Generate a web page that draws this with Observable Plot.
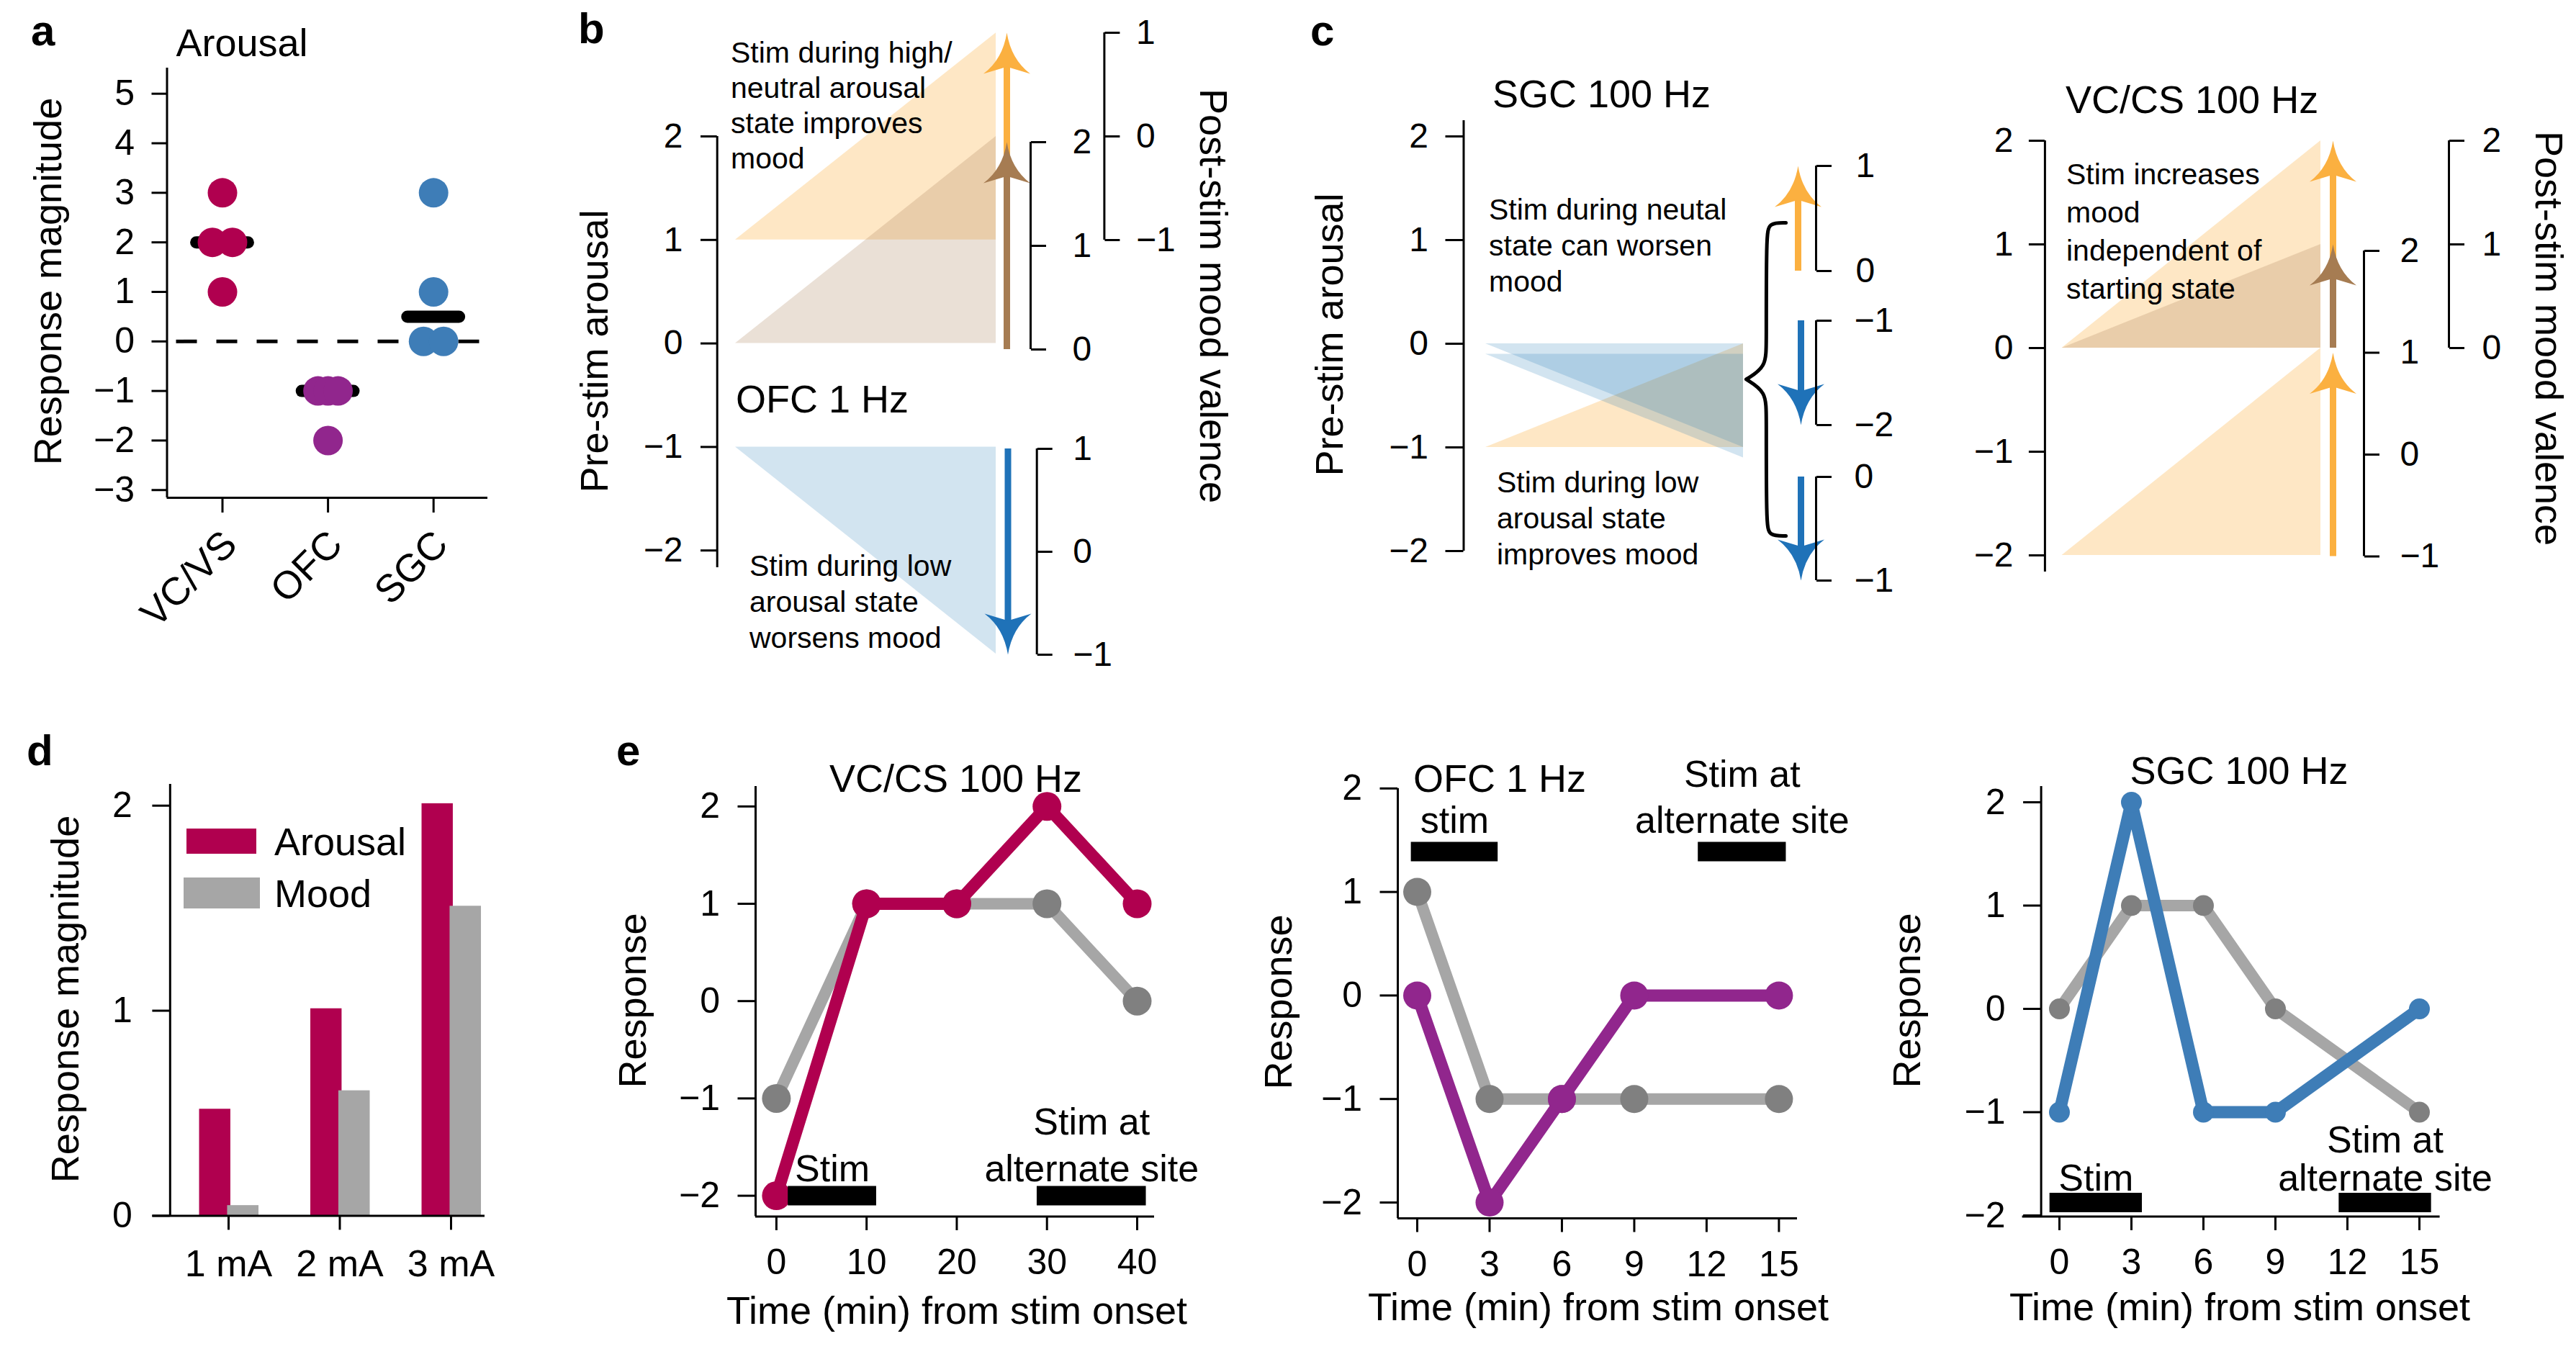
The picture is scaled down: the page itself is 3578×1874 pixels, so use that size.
<!DOCTYPE html>
<html><head><meta charset="utf-8">
<script src="https://cdn.jsdelivr.net/npm/d3@7"></script>
<script src="https://cdn.jsdelivr.net/npm/@observablehq/plot@0.6"></script>
<style>
html,body{margin:0;padding:0;background:#fff;}
#root{position:relative;width:3578px;height:1874px;overflow:hidden;background:#fff;font-family:"Liberation Sans",Arial,Helvetica,sans-serif;color:#000;}
.t{position:absolute;white-space:pre;line-height:1;color:#000;}
</style></head><body><div id="root"></div>
<script>
// ================= DATA =================
// a: arousal response per region (individual sessions)
const regions = ["VC/VS", "OFC", "SGC"];
const arousalVCVS = [3, 2, 2, 1];
const arousalOFC = [-1, -1, -1, -2];
const arousalSGC = [3, 1, 0, 0];
const yTicksA = [-3, -2, -1, 0, 1, 2, 3, 4, 5];

// b: OFC 1 Hz schematic
const statesB = ["high/neutral", "neutral", "low"];
const preArousalB = [1, 0, -1];
const apexArousalB = [3, 2, -3];
const moodFromB = [-1, 0, 1];
const moodToB = [1, 2, -1];
const moodTicksB = [[-1, 0, 1], [0, 1, 2], [-1, 0, 1]];
const arousalTicks = [-2, -1, 0, 1, 2];

// c (left): SGC 100 Hz schematic
const statesCL = ["low", "neutral", "neutral"];
const preArousalCL = [-1, 0, -0.1];
const apexArousalCL = [0, -1, -1.1];
const moodFromCL = [0, -1, 0];
const moodToCL = [1, -2, -1];
const moodTicksCL = [[0, 1], [-1, -2], [0, -1]];

// c (right): VC/CS 100 Hz schematic
const statesCR = ["neutral", "neutral", "low"];
const preArousalCR = [0, 0, -2];
const apexArousalCR = [2, 1, 0];
const moodFromCR = [0, 0, -1];
const moodToCR = [2, 1, 1];
const moodTicksCRA = [-1, 0, 1, 2];
const moodTicksCRB = [0, 1, 2];

// d: dose response
const currents = ["1 mA", "2 mA", "3 mA"];
const seriesD = ["Arousal", "Mood"];
const arousalByCurrent = [0.52, 1.01, 2.01];
const moodByCurrent = [0.05, 0.61, 1.51];
const yTicksD = [0, 1, 2];

// e: time courses
const timeVCCS = [0, 10, 20, 30, 40];
const arousalVCCS = [-2, 1, 1, 2, 1];
const moodVCCS = [-1, 1, 1, 1, 0];
const timeOFC = [0, 3, 6, 9, 15];
const arousalOFCt = [0, -2, -1, 0, 0];
const moodOFCt = [1, -1, -1, -1, -1];
const timeSGC = [0, 3, 6, 9, 15];
const arousalSGCt = [-1, 2, -1, -1, 0];
const moodSGCt = [0, 1, 1, 0, -1];
const ticksVCCS = [0, 10, 20, 30, 40];
const ticksMin15 = [0, 3, 6, 9, 12, 15];
const yTicksE = [-2, -1, 0, 1, 2];
const stimLabels = ["Stim", "Stim at\nalternate site"];
const stimStartVCCS = [1.3, 28.9], stimEndVCCS = [11.1, 41.0], stimLevelVCCS = -2;
const stimStartOFC = [-0.25, 11.65], stimEndOFC = [3.35, 15.3], stimLevelOFC = 1.39;
const stimStartSGC = [-0.4, 11.65], stimEndSGC = [3.45, 15.5], stimLevelSGC = -1.875;

// ================= STYLE =================
const FONT = '"Liberation Sans", Arial, Helvetica, sans-serif';
const regionColor = {"VC/VS": "#B0004F", "OFC": "#91268D", "SGC": "#3E7DB7"};
const GRAY = "#A6A6A6", GRAYDOT = "#808080";
const schem = {
  orange: {arrow: "#FBB040", fill: "#FBB040", op: 0.3},
  brown: {arrow: "#A67C52", fill: "#A67C52", op: 0.24},
  blue: {arrow: "#1F72B8", fill: "#1F77B4", op: 0.2}
};
const colorKeyB = ["orange", "brown", "blue"];
const colorKeyCL = ["orange", "blue", "blue"];
const colorKeyCR = ["orange", "brown", "orange"];
const fmt = d3.format("d");

// ================= HELPERS =================
const root = document.getElementById("root");
function lin(v0, p0, v1, p1) {
  const k = (p1 - p0) / (v1 - v0);
  const f = v => p0 + (v - v0) * k;
  f.inv = p => v0 + (p - p0) / k;
  f.k = k;
  return f;
}
function chart({svg: [sL, sT, sW, sH], frame: [L, T, R, B], xMap, yMap, marks}) {
  const xs = lin(...xMap), ys = lin(...yMap);
  const plot = Plot.plot({
    width: sW, height: sH,
    marginLeft: L - sL, marginRight: sL + sW - R, marginTop: T - sT, marginBottom: sT + sH - B,
    x: {domain: [xs.inv(L), xs.inv(R)], axis: null},
    y: {domain: [ys.inv(B), ys.inv(T)], axis: null},
    color: {type: "identity"},
    style: `background:none;overflow:visible;font-family:${FONT};font-size:48px;color:#000;max-width:none;`,
    marks: marks(xs, ys, {L, T, R, B})
  });
  const div = document.createElement("div");
  div.style.cssText = `position:absolute;left:${sL}px;top:${sT}px;width:${sW}px;height:${sH}px;`;
  div.appendChild(plot);
  root.appendChild(div);
}
function txt(s, x, y, {size = 54, anchor = "start", weight = "normal", rotate = 0, lh = null, base = false} = {}) {
  const d = document.createElement("div");
  d.className = "t";
  d.textContent = s;
  d.style.fontSize = size + "px";
  d.style.fontWeight = weight;
  const L = lh || size;
  if (lh) d.style.lineHeight = lh + "px";
  d.style.left = x + "px";
  if (rotate) {
    d.style.top = y + "px";
    d.style.transform = `translate(-50%,-50%) rotate(${rotate}deg)`;
  } else {
    d.style.top = (base ? y - 0.8465 * size : y - L / 2) + "px";
    if (anchor === "middle") { d.style.transform = "translateX(-50%)"; d.style.textAlign = "center"; }
    if (anchor === "end") { d.style.transform = "translateX(-100%)"; d.style.textAlign = "right"; }
  }
  root.appendChild(d);
}
function headSymbol(dir) { // tip at origin; dir=+1: pointing up, -1: pointing down
  return {draw(ctx) {
    const l = 57, w = 32.5;
    ctx.moveTo(0, 0);
    ctx.quadraticCurveTo(-6, dir * 0.65 * l, -w, dir * l);
    ctx.lineTo(0, dir * 0.83 * l);
    ctx.lineTo(w, dir * l);
    ctx.quadraticCurveTo(6, dir * 0.65 * l, 0, 0);
    ctx.closePath();
  }};
}
function triRows(pre, apex) {
  return pre.map((p, i) => [{k: i, t: 0, y1: p, y2: p}, {k: i, t: 1, y1: p, y2: apex[i]}]);
}
function triangleMarks(pre, apex, keys) {
  return triRows(pre, apex).map((rows, i) => {
    const st = schem[keys[i]];
    return Plot.areaY(rows, {x: "t", y1: "y1", y2: "y2", fill: st.fill, fillOpacity: st.op});
  });
}
// A mood-valence bracket axis with its outcome arrow(s)
function bracket({svg, arrowX, lineX, moodMap, ticks, arrows, pad}) {
  const m = lin(...moodMap);
  const T = m(d3.max(ticks)), B = m(d3.min(ticks));
  chart({svg, frame: [arrowX, T, lineX, B], xMap: [0, arrowX, 1, lineX], yMap: moodMap,
    marks: (xs, ys) => {
      const ppu = Math.abs(ys.k);
      return [
        ...arrows.flatMap(a => {
          const dir = a.to > a.from ? 1 : -1;
          return [
            Plot.ruleX([a], {x: 0, y1: "from", y2: d => d.to - dir * 30 / ppu, stroke: a.color, strokeWidth: 9}),
            Plot.dot([a], {x: 0, y: "to", r: 10, symbol: headSymbol(dir), fill: a.color, stroke: "none"})
          ];
        }),
        Plot.ruleX([1], {stroke: "#000", strokeWidth: 3}),
        Plot.axisY({anchor: "right", ticks, tickSize: 21, tickPadding: pad, tickFormat: fmt, fontSize: 48, strokeWidth: 3, label: null})
      ];
    }});
}

// ================= PANEL a =================
const groupsA = [arousalVCVS, arousalOFC, arousalSGC];
const rowsA = groupsA.flatMap((vals, i) => {
  const counts = d3.rollup(vals, v => v.length, v => v);
  const seen = new Map();
  return vals.map(v => {
    const n = counts.get(v), k = seen.get(v) || 0;
    seen.set(v, k + 1);
    return {i, v, off: n > 1 ? (k / (n - 1) - 0.5) * 0.19 : 0};
  });
});
const medA = groupsA.map((vals, i) => ({i, m: d3.median(vals)}));
chart({svg: [0, 0, 720, 920], frame: [231.5, 94, 677, 691], xMap: [0, 308.5, 2, 601.7], yMap: [0, 473.8, 5, 129.7],
  marks: (xs, ys, F) => [
    Plot.ruleY([0], {stroke: "#000", strokeWidth: 5, strokeDasharray: "29 27", strokeDashoffset: -13}),
    Plot.ruleY(medA, {y: "m", x1: d => d.i - 0.245, x2: d => d.i + 0.245, stroke: "#000", strokeWidth: 17, strokeLinecap: "round"}),
    Plot.dot(rowsA, {x: d => d.i + d.off, y: "v", r: 20.5, fill: d => regionColor[regions[d.i]], stroke: "none"}),
    Plot.ruleX([xs.inv(F.L)], {stroke: "#000", strokeWidth: 3}),
    Plot.ruleY([ys.inv(F.B)], {stroke: "#000", strokeWidth: 3}),
    Plot.axisY({ticks: yTicksA, tickSize: 21, tickPadding: 24, tickFormat: fmt, fontSize: 50, strokeWidth: 3, label: null}),
    Plot.axisX({ticks: [0, 1, 2], tickSize: 21, tickFormat: () => "", strokeWidth: 3, label: null}),
    Plot.text(regions, {x: (d, i) => i, y: ys.inv(F.B), text: d => d, rotate: -45, textAnchor: "end", lineAnchor: "bottom", dx: 23, dy: 68, fontSize: 54})
  ]});
txt("a", 43, 64, {size: 60, weight: "bold", base: true});
txt("Arousal", 336, 59, {anchor: "middle"});
txt("Response magnitude", 65.5, 391, {rotate: -90});

// ================= PANEL b =================
chart({svg: [790, 0, 960, 960], frame: [995.7, 189, 1383, 788], xMap: [0, 1021, 1, 1383], yMap: [0, 476.6, 2, 189],
  marks: (xs, ys, F) => [
    ...triangleMarks(preArousalB, apexArousalB, colorKeyB),
    Plot.ruleX([xs.inv(F.L)], {stroke: "#000", strokeWidth: 3}),
    Plot.axisY({ticks: arousalTicks, tickSize: 22.7, tickPadding: 25, tickFormat: fmt, fontSize: 48, strokeWidth: 3, label: null})
  ]});
const arrowB = i => ({from: moodFromB[i], to: moodToB[i], color: schem[colorKeyB[i]].arrow});
bracket({svg: [1350, 0, 320, 380], arrowX: 1398, lineX: 1533.4, moodMap: [-1, 333, 1, 45], ticks: moodTicksB[0], arrows: [arrowB(0)], pad: 23});
bracket({svg: [1350, 150, 220, 370], arrowX: 1398, lineX: 1431, moodMap: [0, 485, 2, 197], ticks: moodTicksB[1], arrows: [arrowB(1)], pad: 37});
bracket({svg: [1350, 580, 220, 370], arrowX: 1399.5, lineX: 1439.7, moodMap: [-1, 909, 1, 623], ticks: moodTicksB[2], arrows: [arrowB(2)], pad: 29});
txt("b", 803, 61, {size: 60, weight: "bold", base: true});
txt("Pre-stim arousal", 824.5, 488, {rotate: -90});
txt("Post-stim mood valence", 1685.5, 410.5, {rotate: 90});
txt("Stim during high/\nneutral arousal\nstate improves\nmood", 1015, 73, {size: 41, lh: 49});
txt("OFC 1 Hz", 1022, 554);
txt("Stim during low\narousal state\nworsens mood", 1041, 786, {size: 41, lh: 50});

// ================= PANEL c (left) =================
const braceCL = (() => {
  const xT = 1.011, xV = 1.089, xE = 1.165, yT = 1.167, yB = -1.854, yM = (yT + yB) / 2;
  return [[xE, yT], [xV + 0.01, yT], [xV, yT - 0.12], [xV, yM + 0.35], [xV, yM + 0.12],
    [xT, yM], [xT, yM], [xT, yM], [xV, yM - 0.12], [xV, yM - 0.35], [xV, yB + 0.12], [xV + 0.01, yB], [xE, yB]]
    .map(([x, y]) => ({x, y}));
})();
chart({svg: [1900, 100, 600, 720], frame: [2032.5, 167, 2421, 765], xMap: [0, 2063, 1, 2421], yMap: [0, 477, 2, 189],
  marks: (xs, ys, F) => [
    ...triangleMarks(preArousalCL, apexArousalCL, colorKeyCL),
    Plot.line(braceCL, {x: "x", y: "y", curve: "basis", stroke: "#000", strokeWidth: 5}),
    Plot.ruleX([xs.inv(F.L)], {stroke: "#000", strokeWidth: 3}),
    Plot.axisY({ticks: arousalTicks, tickSize: 25, tickPadding: 24, tickFormat: fmt, fontSize: 48, strokeWidth: 3, label: null})
  ]});
const arrowCL = i => ({from: moodFromCL[i], to: moodToCL[i], color: schem[colorKeyCL[i]].arrow});
bracket({svg: [2450, 180, 220, 230], arrowX: 2497, lineX: 2522, moodMap: [0, 376, 1, 230], ticks: moodTicksCL[0], arrows: [arrowCL(0)], pad: 34});
bracket({svg: [2450, 400, 220, 230], arrowX: 2501, lineX: 2522, moodMap: [-2, 590, -1, 445], ticks: moodTicksCL[1], arrows: [arrowCL(1)], pad: 32});
bracket({svg: [2450, 620, 220, 230], arrowX: 2501, lineX: 2522, moodMap: [-1, 806, 0, 662], ticks: moodTicksCL[2], arrows: [arrowCL(2)], pad: 32});
txt("c", 1820, 64, {size: 60, weight: "bold", base: true});
txt("Pre-stim arousal", 1846, 465, {rotate: -90});
txt("SGC 100 Hz", 2073, 130);
txt("Stim during neutal\nstate can worsen\nmood", 2068, 291, {size: 41, lh: 50});
txt("Stim during low\narousal state\nimproves mood", 2079, 669.5, {size: 41, lh: 50});

// ================= PANEL c (right) =================
chart({svg: [2720, 150, 540, 700], frame: [2839.9, 195, 3223, 794], xMap: [0, 2863.6, 1, 3223], yMap: [0, 483, 2, 195],
  marks: (xs, ys, F) => [
    ...triangleMarks(preArousalCR, apexArousalCR, colorKeyCR),
    Plot.ruleX([xs.inv(F.L)], {stroke: "#000", strokeWidth: 3}),
    Plot.axisY({ticks: arousalTicks, tickSize: 22, tickPadding: 22, tickFormat: fmt, fontSize: 48, strokeWidth: 3, label: null})
  ]});
const arrowCR = i => ({from: moodFromCR[i], to: moodToCR[i], color: schem[colorKeyCR[i]].arrow});
bracket({svg: [3190, 300, 250, 520], arrowX: 3240, lineX: 3283, moodMap: [-1, 772.5, 2, 348], ticks: moodTicksCRA, arrows: [arrowCR(2)], pad: 29});
bracket({svg: [3190, 140, 330, 380], arrowX: 3240, lineX: 3401, moodMap: [0, 483, 2, 195], ticks: moodTicksCRB, arrows: [arrowCR(0), arrowCR(1)], pad: 25});
txt("VC/CS 100 Hz", 2869, 138);
txt("Stim increases\nmood\nindependent of\nstarting state", 2870, 242, {size: 41, lh: 53});
txt("Post-stim mood valence", 3540.5, 469.5, {rotate: 90});

// ================= PANEL d =================
const rowsD = currents.map((c, i) => ({i, arousal: arousalByCurrent[i], mood: moodByCurrent[i]}));
const colorD = {"Arousal": "#B0004F", "Mood": GRAY};
chart({svg: [0, 1060, 720, 814], frame: [235.8, 1089, 673, 1688.4], xMap: [0, 317, 2, 626], yMap: [0, 1688.4, 2, 1118.7],
  marks: (xs, ys, F) => [
    Plot.rect(rowsD, {x1: d => d.i - 0.262, x2: d => d.i + 0.019, y1: 0, y2: "arousal", fill: colorD.Arousal}),
    Plot.rect(rowsD, {x1: d => d.i - 0.01, x2: d => d.i + 0.272, y1: 0, y2: "mood", fill: colorD.Mood}),
    Plot.ruleX([xs.inv(F.L)], {stroke: "#000", strokeWidth: 3}),
    Plot.ruleY([0], {x1: xs.inv(211.4), x2: xs.inv(F.R), stroke: "#000", strokeWidth: 3}),
    Plot.axisY({ticks: yTicksD, tickSize: 24.4, tickPadding: 28, tickFormat: fmt, fontSize: 50, strokeWidth: 3, label: null}),
    Plot.axisX({ticks: [0, 1, 2], tickSize: 20, tickPadding: 27, tickFormat: i => currents[i], fontSize: 52, strokeWidth: 3, label: null})
  ]});
txt("d", 37, 1064, {size: 60, weight: "bold", base: true});
txt("Response magnitude", 90, 1387.5, {rotate: -90});
// legend
const swatchBoxes = [[259, 1150.5, 97, 35], [255, 1219, 105.5, 43]];
const legendTextY = [1169, 1241];
seriesD.forEach((s, i) => {
  const [l, t, w, h] = swatchBoxes[i];
  const sw = document.createElement("div");
  sw.style.cssText = `position:absolute;left:${l}px;top:${t}px;width:${w}px;height:${h}px;background:${colorD[s]};`;
  root.appendChild(sw);
  txt(s, 381, legendTextY[i]);
});

// ================= PANEL e =================
function timeCourse({svg, frame, xMap, yMap, time, arousal, mood, color, r, xTicks, stim, labelDy, lineH, axisLeftExt}) {
  const aRows = time.map((t, i) => ({t, v: arousal[i]}));
  const mRows = time.map((t, i) => ({t, v: mood[i]}));
  chart({svg, frame, xMap, yMap, marks: (xs, ys, F) => [
    Plot.line(mRows, {x: "t", y: "v", stroke: GRAY, strokeWidth: 16, strokeLinejoin: "round"}),
    Plot.dot(mRows, {x: "t", y: "v", r, fill: GRAYDOT, stroke: "none"}),
    Plot.line(aRows, {x: "t", y: "v", stroke: color, strokeWidth: 17, strokeLinejoin: "round"}),
    Plot.dot(aRows, {x: "t", y: "v", r, fill: color, stroke: "none"}),
    Plot.ruleY(stim, {y: "level", x1: "start", x2: "end", stroke: "#000", strokeWidth: 27}),
    Plot.text(stim, {x: d => (d.start + d.end) / 2, y: "level", text: "label", lineAnchor: "bottom", dy: labelDy, fontSize: 52, lineHeight: lineH}),
    Plot.ruleX([xs.inv(F.L)], {stroke: "#000", strokeWidth: 3}),
    Plot.ruleY([ys.inv(F.B)], {x1: xs.inv(axisLeftExt || F.L), x2: xs.inv(F.R), stroke: "#000", strokeWidth: 3}),
    Plot.axisY({ticks: yTicksE, tickSize: 24.5, tickPadding: 25, tickFormat: fmt, fontSize: 50, strokeWidth: 3, label: null}),
    Plot.axisX({ticks: xTicks, tickSize: 19.5, tickPadding: 25, tickFormat: fmt, fontSize: 50, strokeWidth: 3, label: null})
  ]});
}
const stimRows = (starts, ends, level) => starts.map((s, i) => ({label: stimLabels[i], start: s, end: ends[i], level}));
timeCourse({svg: [900, 1060, 800, 814], frame: [1049, 1092, 1603, 1689.5], xMap: [0, 1077.9, 40, 1579], yMap: [0, 1390.2, 2, 1119.8],
  time: timeVCCS, arousal: arousalVCCS, mood: moodVCCS, color: regionColor["VC/VS"], r: 20, xTicks: ticksVCCS,
  stim: stimRows(stimStartVCCS, stimEndVCCS, stimLevelVCCS), labelDy: -20, lineH: 1.26});
stimLabels[0] = "stim";
timeCourse({svg: [1790, 1000, 820, 874], frame: [1941, 1094.8, 2496, 1692], xMap: [0, 1968, 15, 2470.4], yMap: [0, 1382.4, 2, 1094.8],
  time: timeOFC, arousal: arousalOFCt, mood: moodOFCt, color: regionColor["OFC"], r: 19.5, xTicks: ticksMin15,
  stim: stimRows(stimStartOFC, stimEndOFC, stimLevelOFC), labelDy: -26, lineH: 1.23});
stimLabels[0] = "Stim";
timeCourse({svg: [2680, 1000, 898, 874], frame: [2834.6, 1092, 3388.6, 1689.5], xMap: [0, 2860, 15, 3360], yMap: [0, 1401, 2, 1114],
  time: timeSGC, arousal: arousalSGCt, mood: moodSGCt, color: regionColor["SGC"], r: 14.5, xTicks: ticksMin15,
  stim: stimRows(stimStartSGC, stimEndSGC, stimLevelSGC), labelDy: -17, lineH: 1.02, axisLeftExt: 2808.6});
txt("e", 856, 1064, {size: 60, weight: "bold", base: true});
txt("VC/CS 100 Hz", 1327.5, 1081, {anchor: "middle"});
txt("OFC 1 Hz", 1963, 1081);
txt("SGC 100 Hz", 3110, 1070, {anchor: "middle"});
txt("Response", 878, 1390, {rotate: -90});
txt("Response", 1775, 1392, {rotate: -90});
txt("Response", 2647.5, 1390, {rotate: -90});
txt("Time (min) from stim onset", 1329, 1820, {anchor: "middle"});
txt("Time (min) from stim onset", 2220, 1815, {anchor: "middle"});
txt("Time (min) from stim onset", 3111, 1815, {anchor: "middle"});
</script>
</body></html>
